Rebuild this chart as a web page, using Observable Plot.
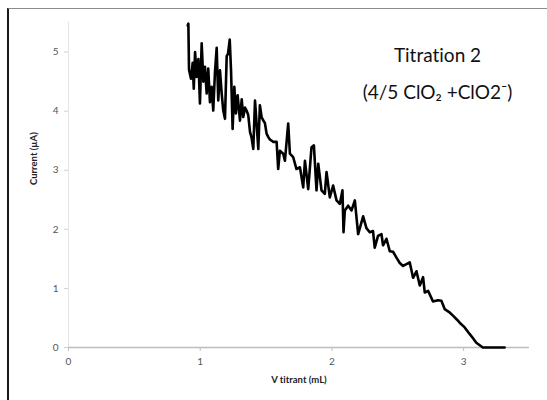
<!DOCTYPE html>
<html>
<head>
<meta charset="utf-8">
<script src="https://cdn.jsdelivr.net/npm/d3@7"></script>
<script src="https://cdn.jsdelivr.net/npm/@observablehq/plot@0.6"></script>
<style>
  html, body { margin: 0; padding: 0; background: #fff; }
  #wrap { position: relative; width: 547px; height: 400px; overflow: hidden; }
  #frame { position: absolute; left: 7px; top: 8px; width: 600px; height: 500px;
           border-left: 2px solid #1a1a1a; border-top: 1px solid #8c8c8c; box-sizing: border-box; }
  #chart { position: absolute; left: 0; top: 0; }
  #chart svg, #chart svg text { font-variant-ligatures: none; font-feature-settings: "liga" 0, "clig" 0; }
</style>
</head>
<body>
<div id="wrap"><div id="frame"></div><div id="chart"></div></div>
<script>
// V titrant (mL)
const vTitrant = [
  0.905, 0.910, 0.915, 0.923, 0.930, 0.943, 0.951, 0.961, 0.973, 0.986,
  0.998, 1.011, 1.024, 1.036, 1.049, 1.061, 1.074, 1.087, 1.099, 1.112,
  1.125, 1.137, 1.150, 1.163, 1.175, 1.188, 1.201, 1.211, 1.224, 1.234,
  1.246, 1.259, 1.271, 1.284, 1.302, 1.315, 1.327, 1.340, 1.352, 1.365,
  1.378, 1.390, 1.403, 1.416, 1.428, 1.441, 1.453, 1.466, 1.479, 1.491,
  1.504, 1.517, 1.529, 1.555, 1.580, 1.592, 1.605, 1.630, 1.643, 1.668,
  1.681, 1.706, 1.731, 1.757, 1.782, 1.795, 1.820, 1.845, 1.863, 1.883,
  1.896, 1.921, 1.946, 1.959, 1.984, 2.009, 2.035, 2.060, 2.080, 2.088,
  2.098, 2.123, 2.149, 2.174, 2.199, 2.237, 2.262, 2.287, 2.312, 2.325,
  2.350, 2.376, 2.388, 2.414, 2.439, 2.464, 2.490, 2.515, 2.540, 2.566,
  2.591, 2.616, 2.642, 2.667, 2.692, 2.705, 2.730, 2.767, 2.805, 2.831,
  2.856, 2.890, 2.919, 2.950, 2.970, 3.008, 3.045, 3.070, 3.096, 3.146,
  3.200, 3.311
];
// Current (µA)
const current = [
  5.45, 5.48, 4.70, 4.62, 4.55, 4.82, 4.38, 5.00, 4.58, 4.88,
  4.13, 5.15, 4.50, 4.75, 4.30, 4.72, 4.15, 4.41, 4.01, 4.66,
  5.07, 4.18, 4.69, 4.30, 4.01, 3.87, 4.93, 4.97, 5.21, 4.69,
  3.70, 4.41, 3.96, 4.27, 3.84, 4.20, 3.90, 4.06, 4.01, 3.93,
  3.65, 3.55, 3.36, 4.18, 3.79, 3.36, 4.10, 3.90, 3.84, 3.80,
  3.62, 3.56, 3.52, 3.48, 3.48, 3.02, 3.33, 3.28, 3.16, 3.79,
  3.28, 3.22, 3.02, 3.05, 2.71, 3.16, 2.68, 3.39, 3.42, 2.66,
  3.11, 2.66, 2.60, 2.97, 2.54, 2.74, 2.49, 2.43, 2.66, 1.95,
  2.32, 2.40, 2.32, 2.49, 1.92, 2.22, 2.02, 1.95, 1.97, 1.69,
  1.89, 1.92, 1.73, 1.84, 1.63, 1.62, 1.52, 1.43, 1.38, 1.41,
  1.44, 1.18, 1.29, 1.05, 1.19, 0.93, 0.96, 0.78, 0.80, 0.79,
  0.65, 0.60, 0.54, 0.47, 0.42, 0.34, 0.23, 0.16, 0.08, 0.00,
  0.00, 0.00
];
const xTicks = [0, 1, 2, 3];
const yTicks = [0, 1, 2, 3, 4, 5];
const titleLine1 = "Titration 2";
const titleLine2 = "(4/5 ClO\u2082 +ClO2\u207B)";
const xLabel = "V titrant (mL)";
const yLabel = "Current (\u00B5A)";

const data = vTitrant.map((v, i) => ({v, c: current[i]}));

const font = "Lato, 'Open Sans', 'DejaVu Sans', sans-serif";

const chart = Plot.plot({
  width: 547,
  height: 400,
  marginLeft: 68,
  marginRight: 18,
  marginTop: 22,
  marginBottom: 53,
  style: {fontFamily: font, background: "transparent", overflow: "visible"},
  x: {domain: [0, 3.5]},
  y: {domain: [0, 5.5]},
  marks: [
    Plot.ruleX([0], {stroke: "#e3e3e3", strokeWidth: 1}),
    Plot.ruleY([0], {stroke: "#bdbdbd", strokeWidth: 1.5}),
    Plot.axisY({ticks: yTicks, tickFormat: "d", tickSize: 4, tickPadding: 6, stroke: "#d0d0d0",
      fill: "#555", fontSize: 10, label: null}),
    Plot.axisX({ticks: xTicks, tickFormat: "d", tickSize: 4, tickPadding: 6, stroke: "#bdbdbd",
      fill: "#555", fontSize: 10, label: null}),
    Plot.line(data, {x: "v", y: "c", stroke: "#000", strokeWidth: 2.6, strokeLinejoin: "round"}),
    Plot.text([xLabel], {frameAnchor: "bottom", dy: 35, text: d => d, fontSize: 9.5,
      fontWeight: "bold", fill: "#222"}),
    Plot.text([yLabel], {frameAnchor: "left", dx: -35, text: d => d, rotate: -90, fontSize: 9.5,
      fontWeight: "bold", fill: "#222"}),
    Plot.text([titleLine1], {frameAnchor: "top-right", textAnchor: "middle", dx: -92, dy: 26,
      text: d => d, fontSize: 19, fill: "#111"}),
    Plot.text([titleLine2], {frameAnchor: "top-right", textAnchor: "middle", dx: -92, dy: 63,
      text: d => d, fontSize: 19, fill: "#111"})
  ]
});
document.getElementById("chart").appendChild(chart);
</script>
</body>
</html>
